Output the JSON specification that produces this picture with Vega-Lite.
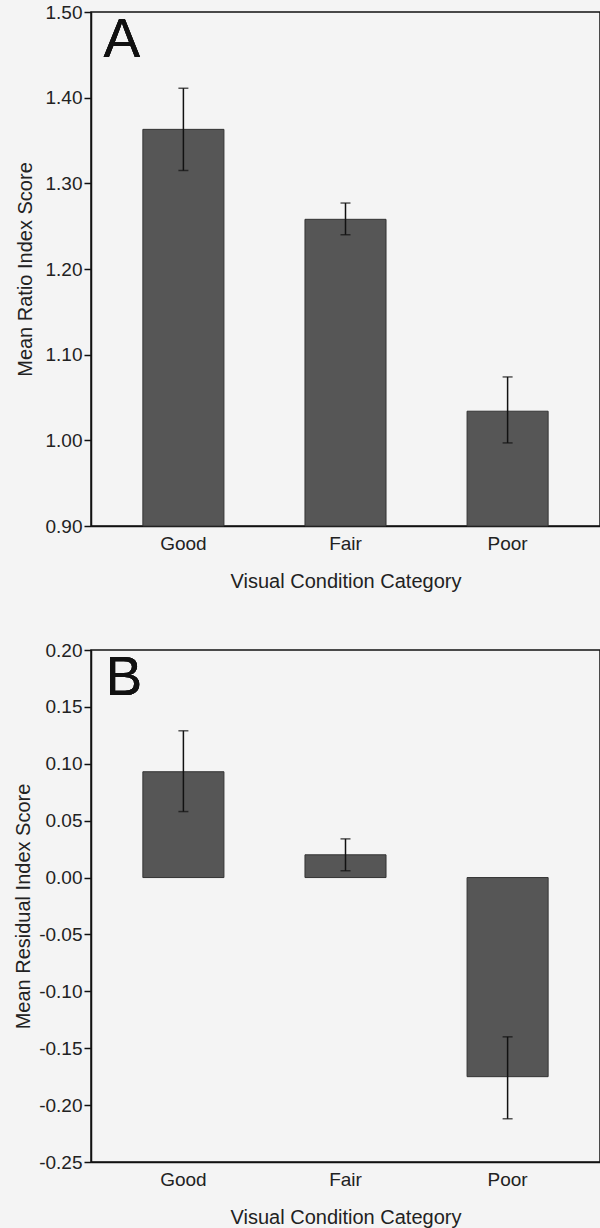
{
  "$schema": "https://vega.github.io/schema/vega-lite/v6.json",
  "background": "#f4f4f4",
  "padding": {"left": 12, "top": 2, "right": 0, "bottom": 0},
  "spacing": 48,
  "datasets": {
    "a": [
      {"condition": "Good", "mean": 1.363, "lo": 1.315, "hi": 1.411},
      {"condition": "Fair", "mean": 1.258, "lo": 1.240, "hi": 1.277},
      {"condition": "Poor", "mean": 1.034, "lo": 0.997, "hi": 1.074}
    ],
    "b": [
      {"condition": "Good", "mean": 0.093, "lo": 0.058, "hi": 0.129},
      {"condition": "Fair", "mean": 0.020, "lo": 0.006, "hi": 0.034},
      {"condition": "Poor", "mean": -0.175, "lo": -0.212, "hi": -0.140}
    ]
  },
  "config": {
    "font": "Liberation Sans",
    "view": {"stroke": "#111", "strokeWidth": 1.5},
    "axis": {
      "labelFontSize": 19, "titleFontSize": 20, "labelColor": "#222", "titleColor": "#222",
      "titleFontWeight": "normal", "domainColor": "#111", "tickColor": "#111",
      "domainWidth": 1.5, "tickWidth": 1.5, "grid": false
    }
  },
  "vconcat": [
    {
      "width": 509, "height": 514,
      "data": {"name": "a"},
      "encoding": {
        "x": {"field": "condition", "type": "nominal", "sort": ["Good", "Fair", "Poor"],
              "scale": {"paddingInner": 0.5, "paddingOuter": 0.32},
              "axis": {"title": "Visual Condition Category", "labelAngle": 0, "ticks": false, "labelPadding": 8, "titlePadding": 18}}
      },
      "layer": [
        {"mark": {"type": "bar", "color": "#565656", "stroke": "#333333", "strokeWidth": 1},
         "encoding": {
           "y": {"field": "mean", "type": "quantitative",
                 "scale": {"domain": [0.9, 1.5], "zero": false, "nice": false},
                 "axis": {"title": "Mean Ratio Index Score", "values": [0.9, 1.0, 1.1, 1.2, 1.3, 1.4, 1.5], "format": ".2f", "tickSize": 7, "titlePadding": 10}},
           "y2": {"datum": 0.9}}},
        {"mark": {"type": "rule", "color": "#111", "strokeWidth": 1.5},
         "encoding": {"y": {"field": "lo", "type": "quantitative"}, "y2": {"field": "hi"}}},
        {"mark": {"type": "tick", "color": "#111", "size": 10, "thickness": 1.5},
         "encoding": {"y": {"field": "hi", "type": "quantitative"}}},
        {"mark": {"type": "tick", "color": "#111", "size": 10, "thickness": 1.5},
         "encoding": {"y": {"field": "lo", "type": "quantitative"}}},
        {"mark": {"type": "text", "fontSize": 55, "align": "left", "baseline": "top", "dx": -80, "dy": 2, "color": "#111"},
         "encoding": {"x": {"datum": "Good"}, "y": {"datum": 1.5}, "text": {"value": "A"}}}
      ]
    },
    {
      "width": 509, "height": 512,
      "data": {"name": "b"},
      "encoding": {
        "x": {"field": "condition", "type": "nominal", "sort": ["Good", "Fair", "Poor"],
              "scale": {"paddingInner": 0.5, "paddingOuter": 0.32},
              "axis": {"title": "Visual Condition Category", "labelAngle": 0, "ticks": false, "labelPadding": 8, "titlePadding": 18}}
      },
      "layer": [
        {"mark": {"type": "bar", "color": "#565656", "stroke": "#333333", "strokeWidth": 1},
         "encoding": {
           "y": {"field": "mean", "type": "quantitative",
                 "scale": {"domain": [-0.25, 0.2], "zero": false, "nice": false},
                 "axis": {"title": "Mean Residual Index Score", "values": [-0.25, -0.2, -0.15, -0.1, -0.05, 0, 0.05, 0.1, 0.15, 0.2],
                          "labelExpr": "replace(format(datum.value, '.2f'), '\u2212', '-')", "tickSize": 7, "titlePadding": 5}},
           "y2": {"datum": 0}}},
        {"mark": {"type": "rule", "color": "#111", "strokeWidth": 1.5},
         "encoding": {"y": {"datum": 0}}},
        {"mark": {"type": "rule", "color": "#111", "strokeWidth": 1.5},
         "encoding": {"y": {"field": "lo", "type": "quantitative"}, "y2": {"field": "hi"}}},
        {"mark": {"type": "tick", "color": "#111", "size": 10, "thickness": 1.5},
         "encoding": {"y": {"field": "hi", "type": "quantitative"}}},
        {"mark": {"type": "tick", "color": "#111", "size": 10, "thickness": 1.5},
         "encoding": {"y": {"field": "lo", "type": "quantitative"}}},
        {"mark": {"type": "text", "fontSize": 55, "align": "left", "baseline": "top", "dx": -78, "dy": 2, "color": "#111"},
         "encoding": {"x": {"datum": "Good"}, "y": {"datum": 0.2}, "text": {"value": "B"}}}
      ]
    }
  ]
}
